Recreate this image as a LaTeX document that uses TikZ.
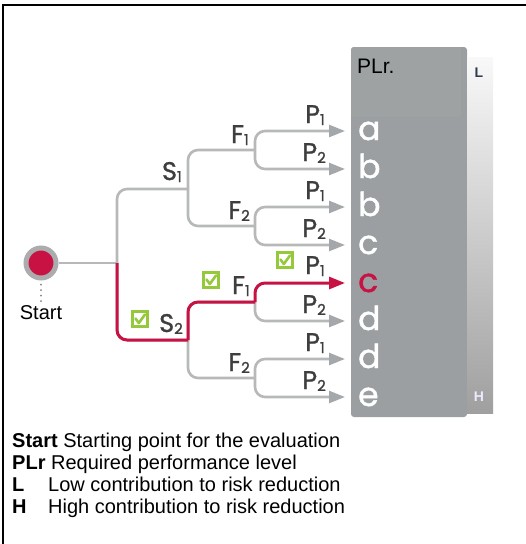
\documentclass[tikz,border=0pt]{standalone}
\usepackage{fontspec}
\setmainfont{Liberation Sans}
\newfontfamily\geofont{Poppins}[FakeBold=1.2]
\newfontfamily\brfont{Poppins}[FakeBold=1.2]
\usetikzlibrary{arrows.meta}

\definecolor{linegray}{RGB}{182,184,185}
\definecolor{tipgray}{RGB}{165,168,170}
\definecolor{ringgray}{RGB}{170,172,174}
\definecolor{pathred}{RGB}{200,18,68}
\definecolor{boxgray}{RGB}{155,159,161}
\definecolor{boxtop}{RGB}{159,162,163}
\definecolor{labelgray}{RGB}{62,62,62}
\definecolor{checkgreen}{RGB}{150,200,60}
\definecolor{lowmark}{RGB}{50,60,80}

% branch label: capital letter with a small lowered index
\newcommand\brlabel[2]{{\brfont\fontsize{25.5}{25.5}\selectfont #1}{\brfont\fontsize{15}{15}\selectfont\raisebox{-2pt}{#2}}}

\tikzset{
  branch/.style={draw=linegray, line width=2.6pt, rounded corners=10pt},
  leaf/.style={branch, -{Triangle[length=16pt,width=12pt,color=tipgray]}},
  chosen/.style={draw=pathred, line width=3pt, rounded corners=10pt},
  chosenleaf/.style={chosen, -{Triangle[length=16pt,width=12pt]}},
  letter/.style={anchor=base west, inner sep=0, text=white,
                 font=\geofont\fontsize{33}{33}\selectfont},
  brtext/.style={anchor=base east, inner sep=0, text=labelgray},
  legend/.style={anchor=base west, inner sep=0,
                 font=\fontsize{20}{24}\selectfont},
  checkbox/.pic={
    \draw[checkgreen, line width=2.2pt] (-7.5,-7.5) rectangle (7.5,7.5);
    \draw[checkgreen, line width=2.6pt, line cap=round, line join=round]
      (-4.5,-0.5) -- (-1.2,4) -- (5,-4.5);
  }
}

\begin{document}
\begin{tikzpicture}[x=1pt, y=-1pt]
\useasboundingbox (0,0) rectangle (526,544);

% outer frame, top and left edges
\draw[line width=1.3pt] (3,544) -- (3,5) -- (526,5);

% PLr column with the L/H scale beside it
\fill[boxgray, rounded corners=3pt] (351,47) rectangle (467,417);
\fill[boxtop, rounded corners=3pt] (351,47) rectangle (461,117);
\shade[top color=white!95!gray, bottom color=gray!75!white] (467,57) rectangle (493,413);
\node[anchor=base west, inner sep=0, font=\fontsize{21}{21}\selectfont] (plr) at (357,73) {PLr.};
\node[inner sep=0, text=lowmark, font=\bfseries\fontsize{14}{14}\selectfont] (lmark) at (479,73) {L};
\node[inner sep=0, text=white!92!blue, font=\bfseries\fontsize{14}{14}\selectfont] (hmark) at (479,397) {H};

% start point
\node[circle, draw=ringgray, line width=5pt, fill=pathred, minimum size=30pt, inner sep=0] (st) at (41,263) {};
\node[font=\fontsize{20}{20}\selectfont] (stlbl) at (41,313) {Start};
\draw[line width=2pt, line cap=round, dash pattern=on 0pt off 5.5pt, gray] ([yshift=-4pt]st.south) -- ([yshift=1pt]stlbl.north);

% branching points
\coordinate (s)   at (117,263);
\coordinate (s1)  at (188,189);
\coordinate (s2)  at (188,340);
\coordinate (f11) at (255,150);
\coordinate (f12) at (255,226);
\coordinate (f21) at (255,302);
\coordinate (f22) at (255,378);
\foreach \i/\y in {1/131,2/169,3/207,4/245,5/283,6/321,7/359,8/397}
  \coordinate (t\i) at (345,\y);

% resulting levels
\node[letter] (la) at (358,140) {a};
\node[letter] (lb1) at (358,178) {b};
\node[letter] (lb2) at (358,216) {b};
\node[letter] (lc1) at (358,254) {c};
\node[letter, text=pathred] (lc2) at (358,292) {c};
\node[letter] (ld1) at (358,330) {d};
\node[letter] (ld2) at (358,368) {d};
\node[letter] (le) at (358,406) {e};

% tree
\draw[branch] (st) -- (s);
\draw[branch] (s) |- (s1);
\draw[branch] (s) |- (s2);
\draw[branch] (s1) |- (f11);
\draw[branch] (s1) |- (f12);
\draw[branch] (s2) |- (f21);
\draw[branch] (s2) |- (f22);
\draw[leaf] (f11) |- (t1);
\draw[leaf] (f11) |- (t2);
\draw[leaf] (f12) |- (t3);
\draw[leaf] (f12) |- (t4);
\draw[leaf] (f21) |- (t6);
\draw[leaf] (f22) |- (t7);
\draw[leaf] (f22) |- (t8);

% selected path
\draw[chosen] (s) |- (s2);
\draw[chosen] (s2) |- (f21);
\draw[chosenleaf] (f21) |- (t5);

% branch labels
\node[brtext] (ls1) at (182,180) {\brlabel{S}{1}};
\node[brtext] (ls2) at (183,332) {\brlabel{S}{2}};
\node[brtext] (lf11) at (249,143) {\brlabel{F}{1}};
\node[brtext] (lf12) at (250,219) {\brlabel{F}{2}};
\node[brtext] (lf21) at (250,294) {\brlabel{F}{1}};
\node[brtext] (lf22) at (250,371) {\brlabel{F}{2}};
\node[brtext] (lp1) at (325,123) {\brlabel{P}{1}};
\node[brtext] (lp2) at (326,161) {\brlabel{P}{2}};
\node[brtext] (lp3) at (325,199) {\brlabel{P}{1}};
\node[brtext] (lp4) at (326,237) {\brlabel{P}{2}};
\node[brtext] (lp5) at (325,274) {\brlabel{P}{1}};
\node[brtext] (lp6) at (326,313) {\brlabel{P}{2}};
\node[brtext] (lp7) at (325,351) {\brlabel{P}{1}};
\node[brtext] (lp8) at (326,389) {\brlabel{P}{2}};

% ticks on the chosen branches
\pic at (140,319) {checkbox};
\pic at (211,280) {checkbox};
\pic at (285,260) {checkbox};

% legend
\node[legend] (leg1) at (12,447) {\textbf{Start} Starting point for the evaluation};
\node[legend] (leg2) at (12,469) {\textbf{PLr} Required performance level};
\node[legend] (leg3k) at (12,491) {\textbf{L}};
\node[legend] (leg3) at (48,491) {Low contribution to risk reduction};
\node[legend] (leg4k) at (12,513) {\textbf{H}};
\node[legend] (leg4) at (48,513) {High contribution to risk reduction};
\end{tikzpicture}
\end{document}
